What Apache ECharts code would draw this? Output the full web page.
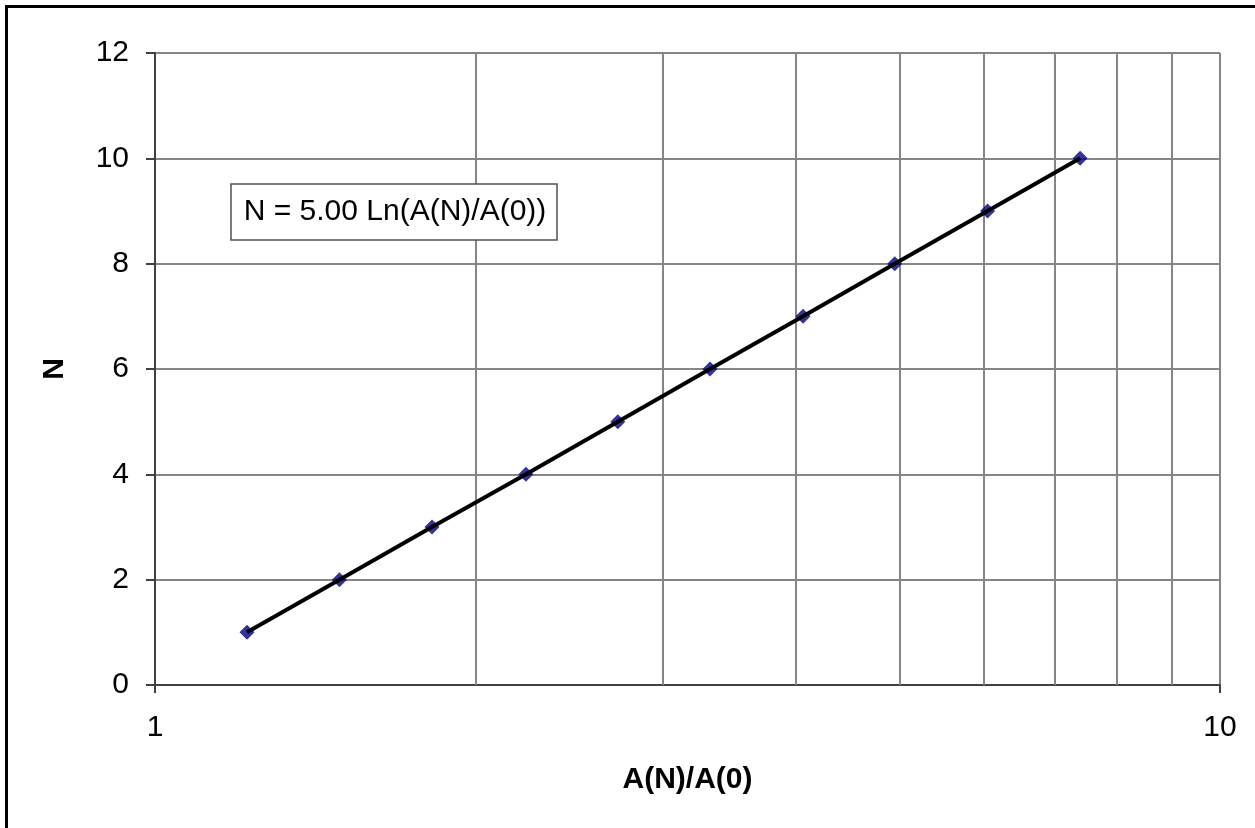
<!DOCTYPE html>
<html>
<head>
<meta charset="utf-8">
<script src="https://cdn.jsdelivr.net/npm/echarts@6/dist/echarts.min.js"></script>
<style>
html,body{margin:0;padding:0;background:#fff;}
#chart{width:1255px;height:828px;}
</style>
</head>
<body>
<div id="chart"></div>
<script>
// Data
var ratioValues = [1.22, 1.49, 1.82, 2.23, 2.72, 3.32, 4.06, 4.95, 6.05, 7.39];
var nValues = [1, 2, 3, 4, 5, 6, 7, 8, 9, 10];
var minorGridValues = [2, 3, 4, 5, 6, 7, 8, 9];
var equationText = 'N = 5.00 Ln(A(N)/A(0))';
var xTitle = 'A(N)/A(0)';
var yTitle = 'N';

var points = ratioValues.map(function (x, i) { return [x, nValues[i]]; });
var FONT = '"Liberation Sans", Arial, sans-serif';

var chart = echarts.init(document.getElementById('chart'), null, {renderer: 'canvas'});
chart.setOption({
  animation: false,
  backgroundColor: '#fff',
  grid: {left: 155, right: 35, top: 53, bottom: 143, containLabel: false},
  xAxis: {
    type: 'log', logBase: 10, min: 1, max: 10,
    name: xTitle, nameLocation: 'middle', nameGap: 80,
    nameTextStyle: {fontFamily: FONT, fontSize: 30, fontWeight: 'bold', color: '#000'},
    axisLine: {show: true, lineStyle: {color: '#404040', width: 2}},
    axisTick: {show: true, inside: false, length: 8, lineStyle: {color: '#404040', width: 2}},
    axisLabel: {fontFamily: FONT, fontSize: 30, color: '#000', margin: 28},
    splitLine: {show: true, lineStyle: {color: '#868686', width: 2}},
    minorTick: {show: false}
  },
  yAxis: {
    type: 'value', min: 0, max: 12, interval: 2,
    name: yTitle, nameLocation: 'middle', nameGap: 85, nameRotate: 90,
    nameTextStyle: {fontFamily: FONT, fontSize: 30, fontWeight: 'bold', color: '#000'},
    axisLine: {show: true, lineStyle: {color: '#404040', width: 2}},
    axisTick: {show: true, inside: false, length: 9, lineStyle: {color: '#404040', width: 2}},
    axisLabel: {fontFamily: FONT, fontSize: 30, color: '#000', margin: 26},
    splitLine: {show: true, lineStyle: {color: '#868686', width: 2}}
  },
  series: [
    {
      type: 'scatter',
      data: points,
      symbol: 'diamond',
      symbolSize: 15,
      itemStyle: {color: '#000080'},
      z: 2,
      markLine: {
        silent: true,
        symbol: ['none', 'none'],
        label: {show: false},
        lineStyle: {color: '#868686', width: 2, type: 'solid'},
        data: minorGridValues.map(function (v) { return {xAxis: v}; }),
        z: 1
      }
    },
    {
      type: 'line',
      data: points,
      showSymbol: false,
      symbol: 'none',
      lineStyle: {color: '#000', width: 4},
      z: 3
    }
  ],
  graphic: [
    {type: 'rect', shape: {x: 6.5, y: 6.5, width: 1260, height: 840},
     style: {fill: null, stroke: '#000', lineWidth: 3}, z: 100},
    {type: 'rect', shape: {x: 231, y: 184, width: 326, height: 56},
     style: {fill: '#fff', stroke: '#505050', lineWidth: 1.5}, z: 50},
    {type: 'text', x: 395, y: 212,
     style: {text: equationText, fontFamily: FONT, fontSize: 30, fill: '#000',
             align: 'center', verticalAlign: 'middle'}, z: 51}
  ]
});
</script>
</body>
</html>
